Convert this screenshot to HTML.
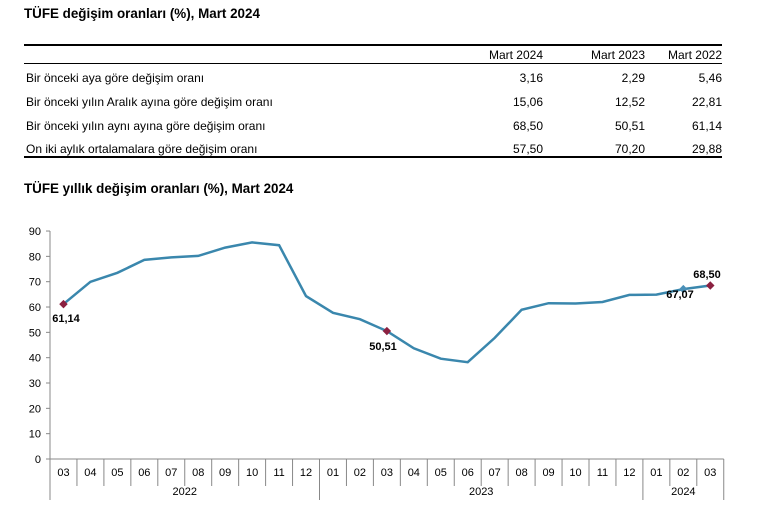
<!DOCTYPE html>
<html><head><meta charset="utf-8"><style>
body{margin:0;background:#fff;width:761px;height:507px;overflow:hidden;font-family:"Liberation Sans",sans-serif;color:#000}
.t{position:absolute;font-size:12px;white-space:nowrap}
.b{font-weight:bold;font-size:13.4px}
.r{text-align:right;width:80px}
</style></head><body>
<div class="t b" style="left:24px;top:6px">TÜFE değişim oranları (%), Mart 2024</div>
<div style="position:absolute;left:24px;top:44px;width:698px;height:2px;background:#000"></div>
<div style="position:absolute;left:24px;top:63px;width:698px;height:1px;background:#000"></div>
<div style="position:absolute;left:24px;top:156px;width:698px;height:2px;background:#000"></div>
<div class="t r" style="left:463px;top:48px">Mart 2024</div>
<div class="t r" style="left:565px;top:48px">Mart 2023</div>
<div class="t r" style="left:642px;top:48px">Mart 2022</div>
<div class="t" style="left:26px;top:71px">Bir önceki aya göre değişim oranı</div>
<div class="t" style="left:26px;top:95px">Bir önceki yılın Aralık ayına göre değişim oranı</div>
<div class="t" style="left:26px;top:119px">Bir önceki yılın aynı ayına göre değişim oranı</div>
<div class="t" style="left:26px;top:142px">On iki aylık ortalamalara göre değişim oranı</div>
<div class="t r" style="left:463px;top:71px">3,16</div><div class="t r" style="left:565px;top:71px">2,29</div><div class="t r" style="left:642px;top:71px">5,46</div>
<div class="t r" style="left:463px;top:95px">15,06</div><div class="t r" style="left:565px;top:95px">12,52</div><div class="t r" style="left:642px;top:95px">22,81</div>
<div class="t r" style="left:463px;top:119px">68,50</div><div class="t r" style="left:565px;top:119px">50,51</div><div class="t r" style="left:642px;top:119px">61,14</div>
<div class="t r" style="left:463px;top:142px">57,50</div><div class="t r" style="left:565px;top:142px">70,20</div><div class="t r" style="left:642px;top:142px">29,88</div>
<div class="t b" style="left:24px;top:181px">TÜFE yıllık değişim oranları (%), Mart 2024</div>
<svg id="c" width="761" height="507" style="position:absolute;left:0;top:0" font-family="Liberation Sans, sans-serif" font-size="11"></svg>
<script>
var s=document.getElementById('c'),h='';
var x0=50,w=26.95,y0=459,k=2.533;
for(var v=0;v<=90;v+=10){var y=y0-v*k;h+='<line x1="46" x2="50" y1="'+y+'" y2="'+y+'" stroke="#888"/><text x="41" y="'+(y+4)+'" text-anchor="end">'+v+'</text>';}
h+='<line x1="50" x2="50" y1="231" y2="459" stroke="#888"/><line x1="50" x2="'+(x0+25*w)+'" y1="459" y2="459" stroke="#888"/>';
var m=['03','04','05','06','07','08','09','10','11','12','01','02','03','04','05','06','07','08','09','10','11','12','01','02','03'];
for(var i=0;i<=25;i++){var x=x0+i*w;var big=(i==0||i==10||i==22||i==25);h+='<line x1="'+x+'" x2="'+x+'" y1="459" y2="'+(big?500:486)+'" stroke="#888"/>';}
m.forEach(function(t,i){h+='<text x="'+(x0+(i+.5)*w)+'" y="476" text-anchor="middle">'+t+'</text>';});
h+='<text x="'+(x0+5*w)+'" y="495" text-anchor="middle">2022</text><text x="'+(x0+16*w)+'" y="495" text-anchor="middle">2023</text><text x="'+(x0+23.5*w)+'" y="495" text-anchor="middle">2024</text>';
var d=[61.14,69.97,73.5,78.6,79.6,80.2,83.45,85.5,84.4,64.3,57.7,55.2,50.51,43.7,39.6,38.2,47.8,58.9,61.5,61.4,62.0,64.8,64.9,67.07,68.5];
var p=d.map(function(v,i){return (x0+(i+.5)*w).toFixed(1)+','+(y0-v*k).toFixed(1)}).join(' ');
h+='<polyline points="'+p+'" fill="none" stroke="#3a87ad" stroke-width="2.5"/>';
function dm(i,c){var x=x0+(i+.5)*w,y=y0-d[i]*k;return '<rect x="'+(x-3)+'" y="'+(y-3)+'" width="6" height="6" fill="'+c+'" transform="rotate(45 '+x+' '+y+')"/>';}
h+=dm(0,'#8b2040')+dm(12,'#8b2040')+dm(23,'#4a90b8')+dm(24,'#8b2040');
h+='<text x="66" y="322" text-anchor="middle" font-weight="bold">61,14</text><text x="383" y="350" text-anchor="middle" font-weight="bold">50,51</text><text x="680" y="298" text-anchor="middle" font-weight="bold">67,07</text><text x="707" y="278" text-anchor="middle" font-weight="bold">68,50</text>';
s.innerHTML=h;
</script>
</body></html>
